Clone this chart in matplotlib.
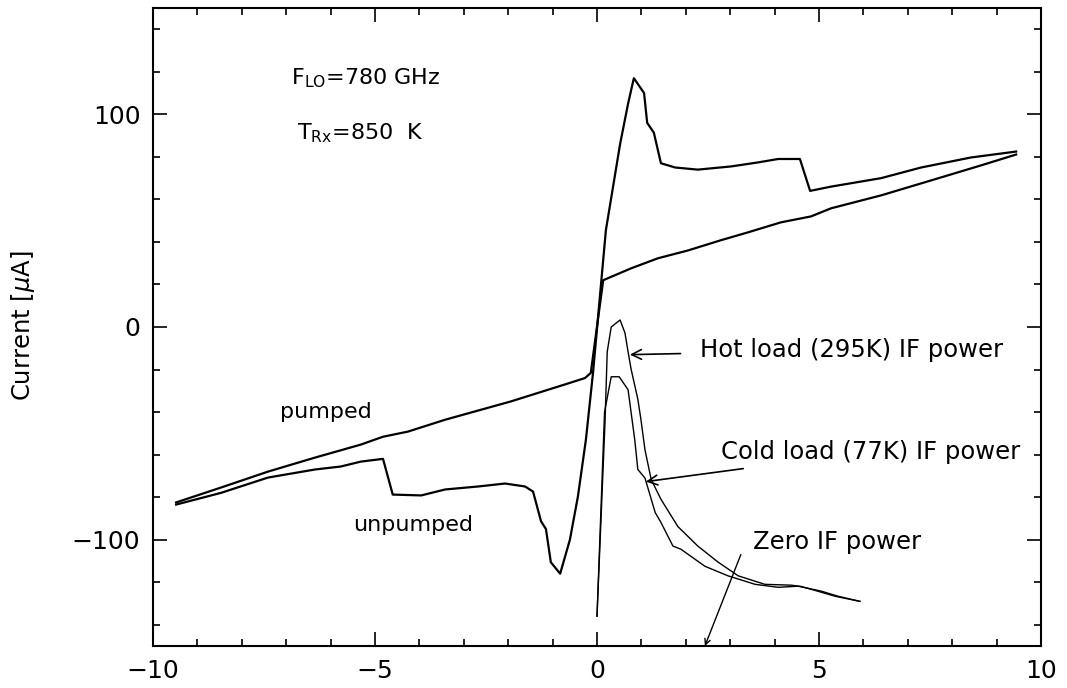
import matplotlib
matplotlib.use("Agg")
import matplotlib.pyplot as plt
from matplotlib.ticker import MultipleLocator

# I-V curve without photon steps (labelled "pumped" in the figure)
iv_a_x = [-9.48, -8.47, -7.41, -6.35, -5.32, -4.82, -4.26, -3.42, -1.94, -0.72, -0.27, -0.14,
          0.14, 0.77, 1.37, 2.05, 2.79, 3.4, 4.14, 4.82, 5.27, 6.4, 7.52, 8.65, 9.44]
iv_a_y = [-82.5, -75.5, -68, -61.4, -55.3, -51.6, -49.2, -43.6, -35, -27, -24, -21.6,
          22, 27.6, 32.3, 36, 40.8, 44.5, 49.2, 52, 55.8, 61.9, 68.9, 76, 81.1]

# I-V curve with steps
iv_b_x = [-9.48, -8.47, -7.41, -6.35, -5.77, -5.32, -4.82, -4.6, -3.96, -3.42, -2.68, -2.07,
          -1.62, -1.44, -1.26, -1.15, -1.04, -0.83, -0.61, -0.43, -0.25, -0.09, 0.2, 0.52,
          0.7, 0.83, 1.06, 1.13, 1.28, 1.44, 1.76, 2.27, 3.02, 3.63, 4.08, 4.57, 4.8, 5.27,
          6.4, 7.3, 8.42, 9.44]
iv_b_y = [-83.5, -78, -70.8, -67, -65.6, -63.3, -62, -78.8, -79.2, -76.4, -75, -73.6,
          -75, -77.4, -91.4, -95, -110.6, -116, -100, -79.7, -53, -21.6, 45.5, 86,
          105, 117, 110, 96, 91.4, 77, 75, 74, 75.5, 77.4, 79, 79, 64, 66,
          70, 75, 79.7, 82.5]

# IF power, hot load
hot_x = [0.0, 0.18, 0.23, 0.32, 0.52, 0.63, 0.7, 0.77, 0.92, 0.99, 1.08, 1.22, 1.44, 1.82,
         2.27, 2.73, 3.18, 3.78, 4.37, 4.6, 4.82, 5.36, 5.92]
hot_y = [-136, -45, -11.7, 0, 3.3, -2.8, -11.7, -20, -34, -43.6, -57.7, -71.7, -81, -93.8,
         -103, -110.6, -117, -121, -121.4, -122, -123.3, -126.6, -129]

# IF power, cold load
cold_x = [0.0, 0.17, 0.32, 0.5, 0.7, 0.85, 0.92, 1.08, 1.31, 1.44, 1.71, 1.89, 2.43, 2.95,
          3.56, 4.08, 4.53, 5.05, 5.43, 5.92]
cold_y = [-136, -40, -23.4, -23.4, -29.5, -53, -67, -71, -87.2, -91.9, -103, -104.5, -112.5,
          -117, -121, -122.4, -121.9, -124.2, -126.6, -129]

fig = plt.figure(figsize=(10.67, 6.88), dpi=100)
ax = fig.add_axes([153 / 1067, 1 - 646 / 688, 888 / 1067, 638 / 688])

ax.plot(iv_a_x, iv_a_y, color='black', lw=1.6)
ax.plot(iv_b_x, iv_b_y, color='black', lw=1.6)
ax.plot(hot_x, hot_y, color='black', lw=1.0)
ax.plot(cold_x, cold_y, color='black', lw=1.0)

ax.set_xlim(-10, 10)
ax.set_ylim(-150, 150)
ax.xaxis.set_major_locator(MultipleLocator(5))
ax.xaxis.set_minor_locator(MultipleLocator(1))
ax.yaxis.set_major_locator(MultipleLocator(100))
ax.yaxis.set_minor_locator(MultipleLocator(20))
ax.tick_params(which='both', direction='in', top=True, right=True, width=1.2, labelsize=18)
ax.tick_params(which='major', length=10, pad=9)
ax.tick_params(which='minor', length=5)
for s in ax.spines.values():
    s.set_linewidth(1.5)

fig.text(23 / 1067, 1 - 326 / 688, r'Current [$\mu$A]', rotation=90,
         ha='center', va='center', fontsize=17.5)

# annotations
ax.text(-6.9, 117, r'F$_{\rm LO}$=780 GHz', fontsize=16, va='center')
ax.text(-6.75, 91, r'T$_{\rm Rx}$=850  K', fontsize=16, va='center')
ax.text(-6.1, -40, 'pumped', fontsize=16, ha='center', va='center')
ax.text(-4.14, -93, 'unpumped', fontsize=16, ha='center', va='center')

ax.annotate('Hot load (295K) IF power', xy=(0.74, -13), xytext=(2.32, -10.8),
            fontsize=17.5, va='center',
            arrowprops=dict(arrowstyle='->', color='black', lw=1.2, shrinkA=12, shrinkB=0))
ax.annotate('Cold load (77K) IF power', xy=(1.1, -72.7), xytext=(2.79, -58.6),
            fontsize=17.5, va='center',
            arrowprops=dict(arrowstyle='->', color='black', lw=1.2, shrinkA=12, shrinkB=0))
ax.text(3.51, -101, 'Zero IF power', fontsize=17.5, va='center')
ax.annotate('', xy=(2.43, -150), xytext=(3.24, -107),
            arrowprops=dict(arrowstyle='->', color='black', lw=1.0, shrinkA=0, shrinkB=0))

fig.savefig('out.png', dpi=100)
